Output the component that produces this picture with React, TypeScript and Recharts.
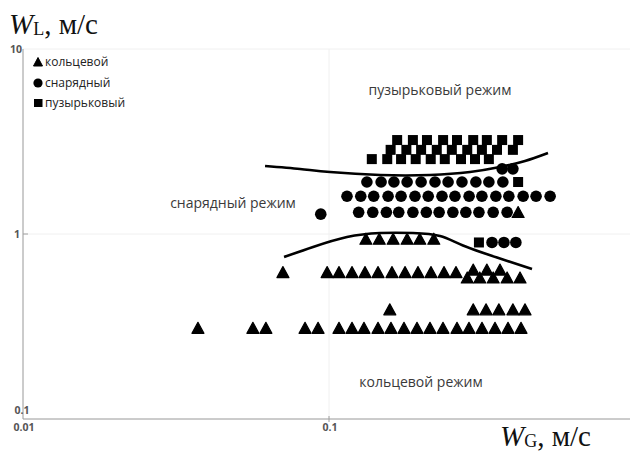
import React from 'react';
import { ComposedChart, Scatter, Line, XAxis, YAxis, CartesianGrid, Legend } from 'recharts';

// Flow regime map: liquid velocity W_L vs gas velocity W_G (both m/s, log-log).
// Each regime is stored row by row: one W_L value and the W_G values measured at it.

// кольцевой (annular) — triangles
const annularWL = [0.31, 0.39, 0.58, 0.62, 0.64, 0.94, 1.31];
const annularWG = [
  [0.0373, 0.0564, 0.0622, 0.0835, 0.0921, 0.1078, 0.1189, 0.1301, 0.1446, 0.1594, 0.1758, 0.1939, 0.2138, 0.2358, 0.262, 0.2867, 0.3162, 0.3487, 0.3846, 0.4241],
  [0.158, 0.296, 0.326, 0.359, 0.399, 0.437],
  [0.283, 0.311, 0.344, 0.382, 0.421],
  [0.0707, 0.0986, 0.1078, 0.1189, 0.1311, 0.1446, 0.1606, 0.1772, 0.1953, 0.2154, 0.2376, 0.26],
  [0.296, 0.328, 0.362],
  [0.132, 0.146, 0.162, 0.18, 0.198, 0.22],
  [0.415],
];

// снарядный (slug) — circles
const slugWL = [0.9, 1.28, 1.31, 1.6, 1.91, 2.25];
const slugWG = [
  [0.341, 0.373, 0.408],
  [0.094],
  [0.125, 0.139, 0.154, 0.169, 0.188, 0.208, 0.229, 0.254, 0.28, 0.309, 0.344, 0.382],
  [0.1145, 0.127, 0.14, 0.156, 0.172, 0.191, 0.211, 0.234, 0.258, 0.287, 0.316, 0.351, 0.387, 0.431, 0.475, 0.528],
  [0.133, 0.148, 0.163, 0.18, 0.2, 0.222, 0.245, 0.272, 0.302, 0.333, 0.37],
  [0.368, 0.399],
];

// пузырьковый (bubble) — squares
const bubbleWL = [0.9, 1.91, 2.54, 2.85, 3.22];
const bubbleWG = [
  [0.309],
  [0.415],
  [0.138, 0.155, 0.172, 0.192, 0.215, 0.239, 0.27, 0.3, 0.333],
  [0.159, 0.179, 0.2, 0.225, 0.252, 0.283, 0.316, 0.354, 0.399],
  [0.167, 0.188, 0.209, 0.236, 0.262, 0.296, 0.328, 0.368, 0.415],
];

// Regime boundaries
const upperBoundaryWG = [0.0618, 0.0804, 0.1008, 0.1468, 0.2138, 0.2889, 0.3621, 0.437, 0.5196];
const upperBoundaryWL = [2.33, 2.245, 2.163, 2.084, 2.084, 2.163, 2.3, 2.48, 2.74];
const lowerBoundaryWG = [0.0713, 0.0887, 0.1145, 0.1468, 0.1881, 0.2305, 0.2741, 0.354, 0.4607];
const lowerBoundaryWL = [0.751, 0.851, 0.963, 1.0125, 1.0125, 0.975, 0.867, 0.746, 0.647];

// Axis ticks
const xTicks = [0.01, 0.1];
const yTicks = [0.1, 1, 10];

const regimeNames = ['кольцевой', 'снарядный', 'пузырьковый'];

type Pt = { x: number; y: number };

const toPoints = (wl: number[], wg: number[][]): Pt[] =>
  wl.flatMap((y, i) => wg[i].map((x) => ({ x, y })));

const pair = (xs: number[], ys: number[]): Pt[] => xs.map((x, i) => ({ x, y: ys[i] }));

const annularData = toPoints(annularWL, annularWG);
const slugData = toPoints(slugWL, slugWG);
const bubbleData = toPoints(bubbleWL, bubbleWG);
const upperBoundary = pair(upperBoundaryWG, upperBoundaryWL);
const lowerBoundary = pair(lowerBoundaryWG, lowerBoundaryWL);

const TriangleMark = (props: any) => {
  const { cx, cy } = props;
  if (cx == null || cy == null) return null;
  return (
    <path
      d={`M${cx},${cy - 5.8} L${cx + 6},${cy + 5.2} L${cx - 6},${cy + 5.2} Z`}
      fill="#000"
      stroke="#000"
      strokeWidth={1.2}
      strokeLinejoin="round"
    />
  );
};

const CircleMark = (props: any) => {
  const { cx, cy } = props;
  if (cx == null || cy == null) return null;
  return <circle cx={cx} cy={cy} r={5.8} fill="#000" />;
};

const SquareMark = (props: any) => {
  const { cx, cy } = props;
  if (cx == null || cy == null) return null;
  return <rect x={cx - 5} y={cy - 5} width={10} height={10} fill="#000" />;
};

const AXIS_COLOR = '#a0a0a0';
const TICK_FONT = { fontFamily: '"Open Sans", sans-serif', fontSize: 10.5, fontWeight: 700, fill: '#555' };
const PLOT_LEFT = 23;
const PLOT_BOTTOM = 419;

const fmt = (v: number) => String(v);

const XTick = (props: any) => {
  const { x, payload, index } = props;
  return (
    <g>
      {index > 0 && <line x1={x} x2={x} y1={PLOT_BOTTOM - 3} y2={PLOT_BOTTOM + 3} stroke={AXIS_COLOR} />}
      <text x={x + 1} y={PLOT_BOTTOM + 12} textAnchor="middle" {...TICK_FONT}>
        {fmt(payload.value)}
      </text>
    </g>
  );
};

const YTick = (props: any) => {
  const { y, payload } = props;
  const v = payload.value;
  if (v === 0.1) {
    return (
      <text x={PLOT_LEFT - 1} y={y - 5} textAnchor="middle" {...TICK_FONT}>
        {fmt(v)}
      </text>
    );
  }
  return (
    <g>
      {v === 1 && <line x1={PLOT_LEFT} x2={PLOT_LEFT + 5} y1={y} y2={y} stroke={AXIS_COLOR} />}
      <text x={v === 10 ? PLOT_LEFT - 1 : PLOT_LEFT - 3} y={y + 4} textAnchor="end" {...TICK_FONT}>
        {fmt(v)}
      </text>
    </g>
  );
};

const legendMarks = [
  <path key="t" d="M5,0.5 L9.5,9 L0.5,9 Z" fill="#000" strokeLinejoin="round" stroke="#000" />,
  <circle key="c" cx={5} cy={5} r={4.6} fill="#000" />,
  <rect key="s" x={1} y={1} width={8.5} height={8} fill="#000" />,
];

const RegimeLegend = () => (
  <div style={{ fontFamily: '"Open Sans", sans-serif', fontSize: 12, color: '#222', lineHeight: '20.5px' }}>
    {regimeNames.map((name, i) => (
      <div key={name} style={{ display: 'flex', alignItems: 'center', whiteSpace: 'nowrap' }}>
        <svg width={10} height={10} style={{ marginRight: 2 }}>
          {legendMarks[i]}
        </svg>
        <span>{name}</span>
      </div>
    ))}
  </div>
);

const regionFont = { fontFamily: '"Open Sans", sans-serif', fontSize: 14, fill: '#3a3a3a' };
const titleFont = { fontFamily: '"Liberation Serif", "Times New Roman", serif', fill: '#111' };

export default function App() {
  return (
    <div style={{ position: 'absolute', left: 0, top: 0, width: 630, height: 454, overflow: 'hidden', background: '#fff' }}>
      <ComposedChart width={635} height={454} margin={{ top: 49, right: 0, bottom: 0, left: 0 }}>
        <CartesianGrid stroke="#f0f0f0" />
        <XAxis
          type="number"
          dataKey="x"
          scale="log"
          domain={[0.01, 1]}
          ticks={xTicks}
          allowDataOverflow
          height={35}
          stroke={AXIS_COLOR}
          tickLine={false}
          tick={<XTick />}
          interval={0}
        />
        <YAxis
          type="number"
          dataKey="y"
          scale="log"
          domain={[0.1, 10]}
          ticks={yTicks}
          allowDataOverflow
          width={23}
          stroke={AXIS_COLOR}
          tickLine={false}
          tick={<YTick />}
          interval={0}
        />
        <Legend
          layout="vertical"
          align="center"
          verticalAlign="middle"
          wrapperStyle={{ left: 33, top: 52, width: 120, height: 66 }}
          content={<RegimeLegend />}
        />
        <Line data={upperBoundary} dataKey="y" type="natural" stroke="#000" strokeWidth={2.6} dot={false} isAnimationActive={false} legendType="none" />
        <Line data={lowerBoundary} dataKey="y" type="natural" stroke="#000" strokeWidth={2.6} dot={false} isAnimationActive={false} legendType="none" />
        <Scatter name={regimeNames[0]} data={annularData} shape={<TriangleMark />} isAnimationActive={false} />
        <Scatter name={regimeNames[1]} data={slugData} shape={<CircleMark />} isAnimationActive={false} />
        <Scatter name={regimeNames[2]} data={bubbleData} shape={<SquareMark />} isAnimationActive={false} />
      </ComposedChart>
      <svg width={630} height={454} style={{ position: 'absolute', left: 0, top: 0, pointerEvents: 'none' }}>
        <text x={9} y={34} {...titleFont} fontSize={29}>
          <tspan fontStyle="italic">W</tspan>
          <tspan fontSize={18} dy={1}>L</tspan>
          <tspan dy={-1}>, м/с</tspan>
        </text>
        <text x={500} y={446} {...titleFont} fontSize={29}>
          <tspan fontStyle="italic">W</tspan>
          <tspan fontSize={18} dy={1}>G</tspan>
          <tspan dy={-1}>, м/с</tspan>
        </text>
        <text x={440} y={95} textAnchor="middle" {...regionFont}>пузырьковый режим</text>
        <text x={233} y={208} textAnchor="middle" {...regionFont}>снарядный режим</text>
        <text x={421} y={387} textAnchor="middle" {...regionFont}>кольцевой режим</text>
      </svg>
    </div>
  );
}
